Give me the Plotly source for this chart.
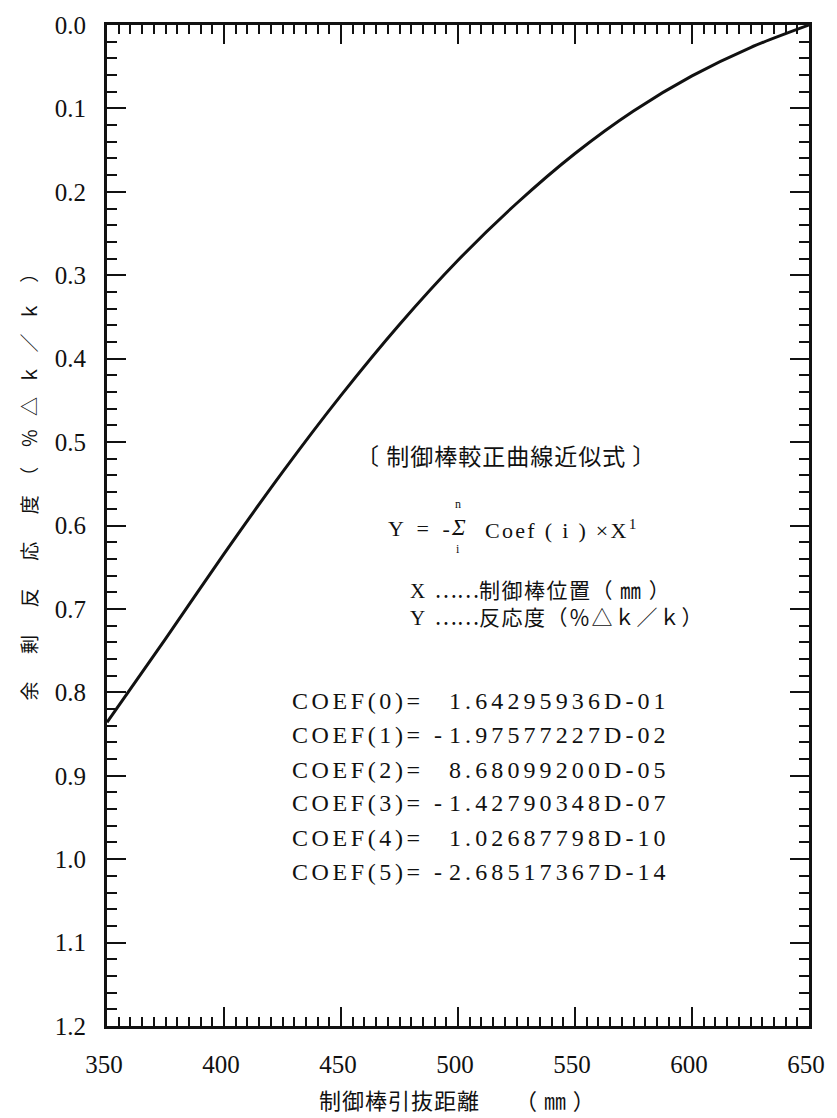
import plotly.graph_objects as go

# ---- data ----
x_mm = [350, 375, 400, 425, 450, 475, 500, 525, 550, 575, 600, 625, 650]
reactivity = [0.836, 0.736, 0.634, 0.536, 0.444, 0.359, 0.282, 0.214, 0.154, 0.103, 0.061, 0.027, 0.0]

coef_index = [0, 1, 2, 3, 4, 5]
coef_sign = ["", "-", "", "-", "", "-"]
coef_mantissa = ["1.64295936D-01", "1.97577227D-02", "8.68099200D-05",
                 "1.42790348D-07", "1.02687798D-10", "2.68517367D-14"]

NB = "\u00a0"
ID = "\u3000"
x_title = "制御棒引抜距離" + ID + ID + "（" + NB + "㎜" + NB + "）"
gap = ID + NB * 2
lg = NB * 3
y_title = ("余" + gap + "剰" + gap + "反" + gap + "応" + gap + "度" + ID +
           "（" + ID + "％" + lg + "△" + lg + "ｋ" + lg + "／" + lg + "ｋ" + ID + "）")
box_title = "〔" + NB + "制御棒較正曲線近似式" + NB + "〕"
x_def = "制御棒位置（" + NB + "㎜" + NB + "）"
y_def = "反応度（％△ｋ／ｋ）"

# ---- geometry ----
W, H = 837, 1118
L, R, T, B = 107, 17, 21, 92
PW, PH = W - L - R, H - T - B


def px(x):
    return (x - L) / PW


def py(y):
    return (H - B - y) / PH


INK = "#111111"
SERIF = "Liberation Serif"
CJK = "Noto Sans CJK JP"

fig = go.Figure()
fig.add_trace(go.Scatter(
    x=x_mm, y=reactivity, mode="lines",
    line=dict(color=INK, width=3, shape="spline", smoothing=0.8),
    showlegend=False, hoverinfo="skip",
))

ann = []


def text(x, y, s, size, family=SERIF, xanchor="left", angle=0, align="left"):
    ann.append(dict(x=px(x), y=py(y), xref="paper", yref="paper", text=s,
                    showarrow=False, xanchor=xanchor, yanchor="middle",
                    textangle=angle, align=align,
                    font=dict(family=family, size=size, color=INK)))


def spaced(s, ls):
    return '<span style="letter-spacing:%spx">%s</span>' % (ls, s)


def serif(s):
    return '<span style="font-family:%s">%s</span>' % (SERIF, s)


# axis titles
text(463, 1099, spaced(x_title, 1), 22, CJK, "center")
text(27, 480, y_title, 19, CJK, "center", -90)

# formula block
text(358, 453, spaced(box_title, 1), 23, CJK)
text(390, 527, spaced("Y =" + NB + "-", 4), 22)
text(464, 526, "<i>Σ</i>", 23, SERIF, "center")
text(464, 502, "n", 12, SERIF, "center")
text(464, 547, "i", 12, SERIF, "center")
text(489, 527, spaced("Coef" + NB + "(" + NB + "i" + NB + ")" + NB + "×X<sup>1</sup>", 2.3), 22)

defs = (spaced(serif("X" + NB), 2) + "……" + spaced(x_def, 1.5) + "<br>" +
        spaced(serif("Y" + NB), 2) + "……" + spaced(y_def, 1.5))
text(413, 601, defs, 21, CJK)

row_y = [700, 734, 769, 802, 837, 871]
for i, sg, m, yy in zip(coef_index, coef_sign, coef_mantissa, row_y):
    text(293, yy, spaced("COEF(%d)=" % i, 3.6), 24)
    if sg:
        text(443, yy, sg, 24, SERIF, "center")
    text(452, yy, spaced(m, 4.1), 24)

axis_common = dict(
    ticks="inside", tickwidth=2, tickcolor=INK,
    showline=True, linewidth=3, linecolor=INK, mirror="allticks",
    showgrid=False, zeroline=False,
    tickfont=dict(family=SERIF, size=25, color=INK),
)

fig.update_layout(
    width=W, height=H,
    margin=dict(l=L, r=R, t=T, b=B, pad=0),
    paper_bgcolor="white", plot_bgcolor="white",
    xaxis=dict(range=[350, 650], tickmode="linear", tick0=350, dtick=50,
               ticklen=19, ticklabelstandoff=14, ticklabelshift=-3,
               minor=dict(tickmode="linear", tick0=350, dtick=5, ticks="inside",
                          ticklen=9, tickwidth=2, tickcolor=INK, showgrid=False),
               **axis_common),
    yaxis=dict(range=[1.2, 0.0], tickmode="linear", tick0=0, dtick=0.1,
               tickformat=".1f", ticklen=19, ticklabelstandoff=13,
               minor=dict(tickmode="linear", tick0=0, dtick=0.02, ticks="inside",
                          ticklen=10, tickwidth=2, tickcolor=INK, showgrid=False),
               **axis_common),
    annotations=ann,
)

fig.write_html("out.html", config={"displayModeBar": False},
               post_script="document.body.style.margin='0';")
